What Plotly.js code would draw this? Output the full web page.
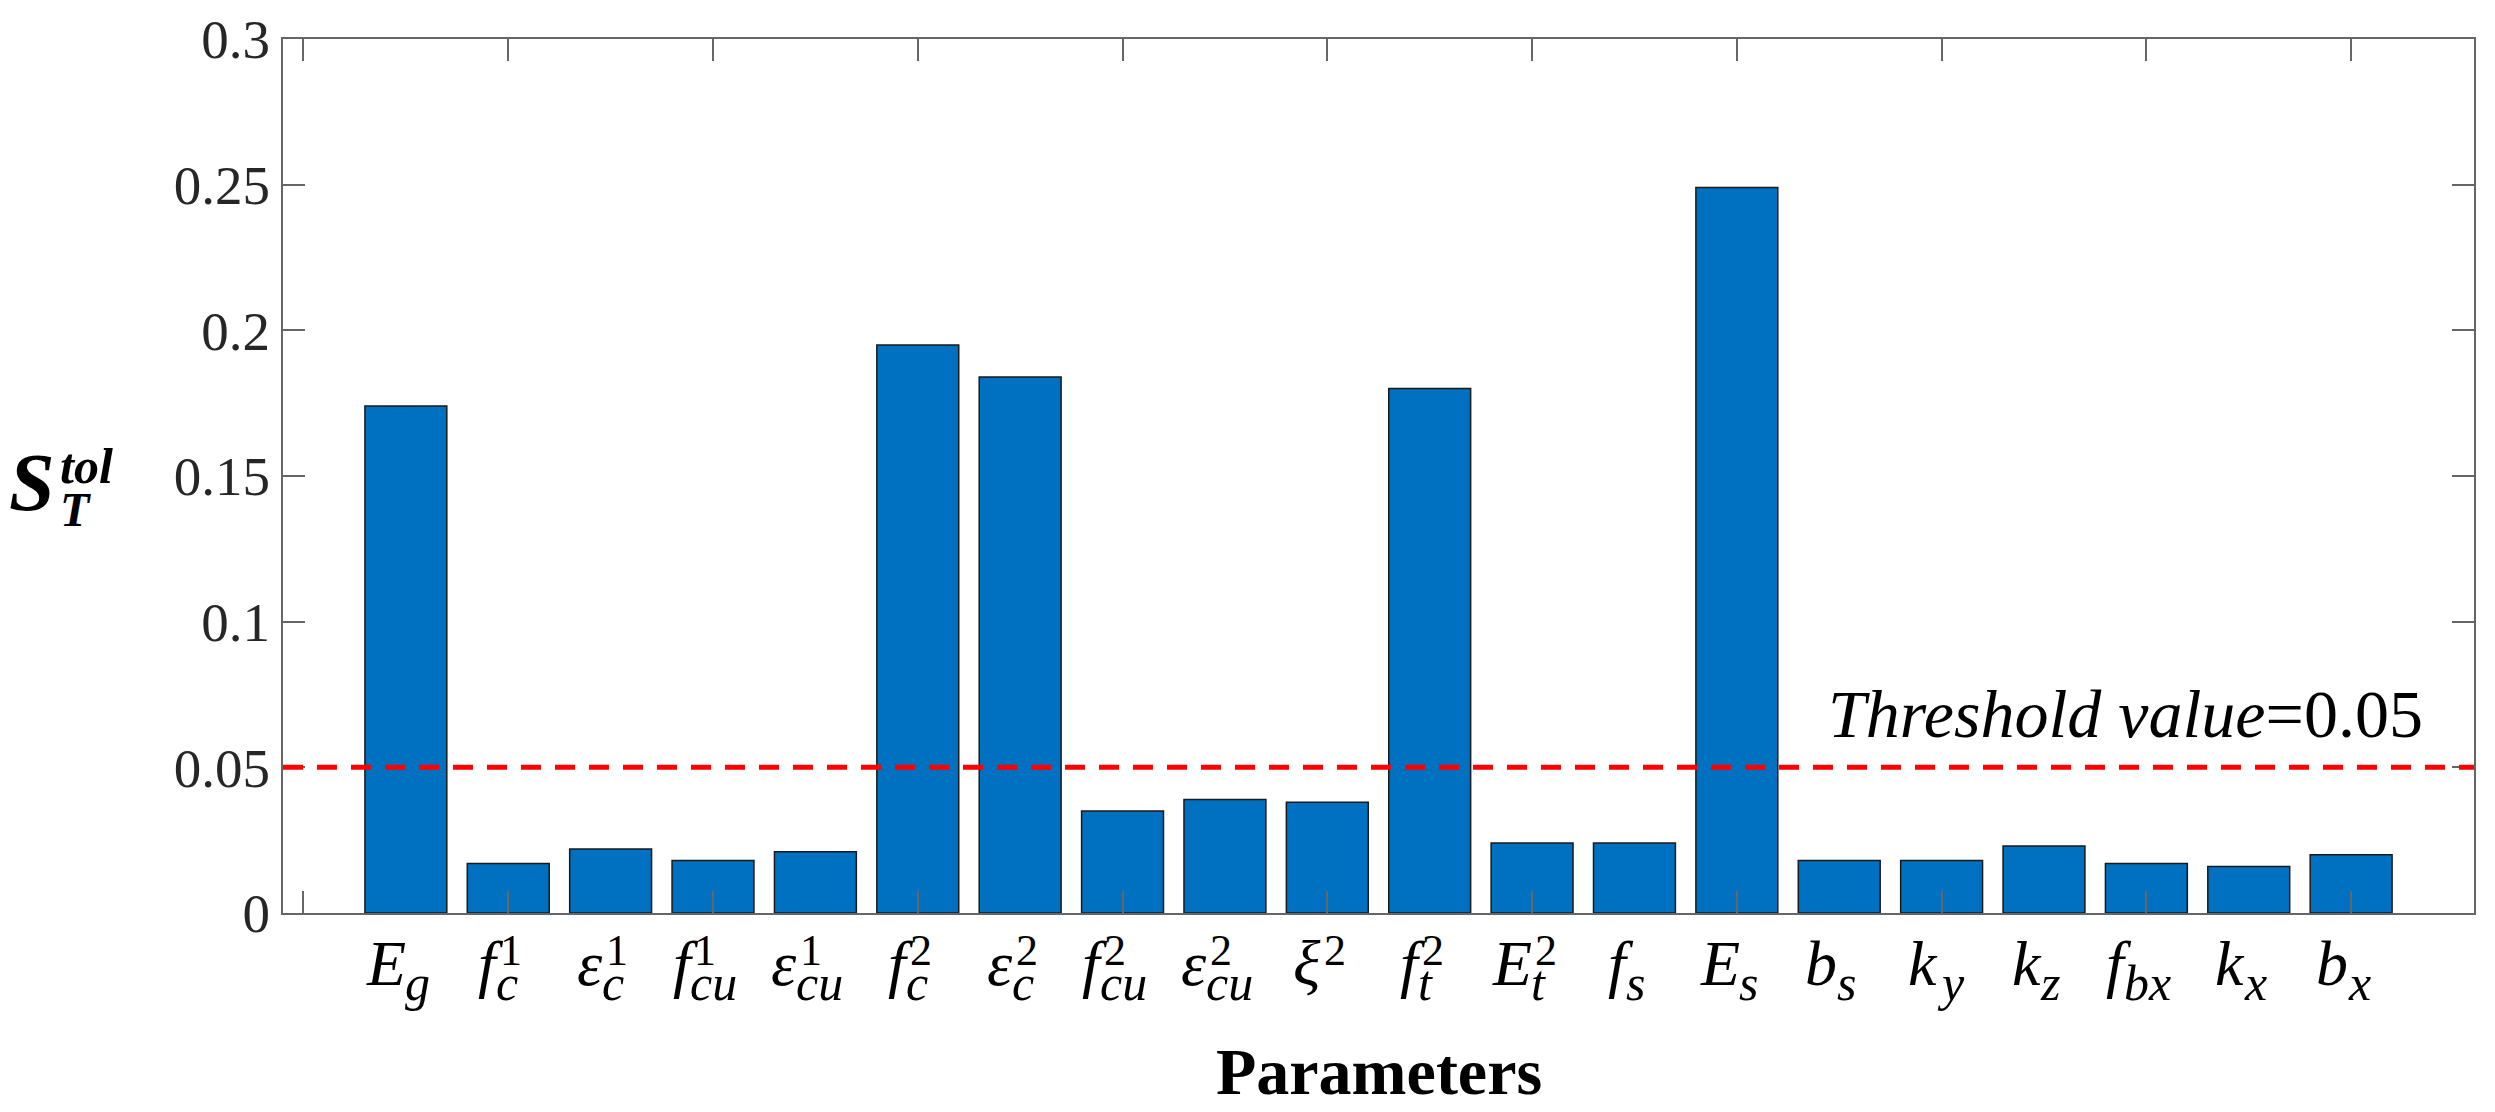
<!DOCTYPE html>
<html>
<head>
<meta charset="utf-8">
<script src="https://cdn.plot.ly/plotly-3.0.1.min.js"></script>
<style>
  html, body { margin: 0; padding: 0; background: #ffffff; }
  #chart { width: 2495px; height: 1112px; }
</style>
</head>
<body>
<div id="chart"></div>
<script>
// ------------------------------------------------------------------------------
// DATA

const param_base = ['E', 'f', 'ε', 'f', 'ε', 'f', 'ε', 'f', 'ε', 'ξ',
                    'f', 'E', 'f', 'E', 'b', 'k', 'k', 'f', 'k', 'b'];
const param_sub  = ['g', 'c', 'c', 'cu', 'cu', 'c', 'c', 'cu', 'cu', '',
                    't', 't', 's', 's', 's', 'y', 'z', 'bx', 'x', 'x'];
const param_sup  = ['', '1', '1', '1', '1', '2', '2', '2', '2', '2',
                    '2', '2', '', '', '', '', '', '', '', ''];

const st_values  = [0.174, 0.017, 0.022, 0.018, 0.021, 0.195, 0.184, 0.035, 0.039, 0.038,
                    0.180, 0.024, 0.024, 0.249, 0.018, 0.018, 0.023, 0.017, 0.016, 0.020];

const threshold  = 0.05;
const y_ticks    = [0, 0.05, 0.1, 0.15, 0.2, 0.25, 0.3];
const y_ticktext = ['0', '0.05', '0.1', '0.15', '0.2', '0.25', '0.3'];
const x_marks    = [0, 2, 4, 6, 8, 10, 12, 14, 16, 18, 20];

// ------------------------------------------------------------------------------
// PARAMETERS

const serif      = 'Liberation Serif, Times New Roman, serif';
const bar_color  = '#0070C0';
const axis_color = '#666666';
const plot_l = 283, plot_r = 2474, plot_t = 39, plot_b = 913;

const base_size = 64;
const sub_size  = 50;
const sup_size  = 44;
const ascent    = 0.891;   // Liberation Serif ascent, in em

function px2paperX(px) { return (px - plot_l) / (plot_r - plot_l); }
function px2paperY(py) { return (plot_b - py) / (plot_b - plot_t); }
// paper y of an annotation top edge so that its baseline sits at py
function baselineTop(py, size) { return px2paperY(py - ascent * size - 1); }

const canvas = document.createElement('canvas');
const ctx    = canvas.getContext('2d');
function textWidth(txt, size, italic) {
    ctx.font = (italic ? 'italic ' : '') + size + 'px "Liberation Serif"';
    return ctx.measureText(txt).width;
}

const positions = st_values.map((v, i) => i + 1);

// ------------------------------------------------------------------------------
// LABELS (base letter with stacked sub/superscript)

function textNote(text, x, xshift, ytop, size) {
    return {
        text: text,
        xref: 'x', yref: 'paper',
        x: x, xshift: xshift,
        y: ytop,
        xanchor: 'left', yanchor: 'top',
        showarrow: false,
        borderpad: 1,
        font: { family: serif, size: size, color: '#000000' }
    };
}

const label_notes = [];
for (let i = 0; i < positions.length; i++) {
    const wb = textWidth(param_base[i], base_size, true);
    const ws = param_sub[i] ? textWidth(param_sub[i], sub_size, true) : 0;
    const wp = param_sup[i] ? textWidth(param_sup[i], sup_size, false) + 4 : 0;
    const total = wb + Math.max(ws, wp);
    const x0 = -total / 2 - 10;

    label_notes.push(textNote('<i>' + param_base[i] + '</i>', positions[i], x0,
                              baselineTop(984, base_size), base_size));
    if (param_sub[i]) {
        label_notes.push(textNote('<i>' + param_sub[i] + '</i>', positions[i], x0 + wb,
                                  baselineTop(999, sub_size), sub_size));
    }
    if (param_sup[i]) {
        label_notes.push(textNote(param_sup[i], positions[i], x0 + wb + 4,
                                  baselineTop(964, sup_size), sup_size));
    }
}

// ------------------------------------------------------------------------------
// PLOT

const bar_trace = {
    type: 'bar',
    x: positions,
    y: st_values,
    width: 0.8,
    marker: {
        color: bar_color,
        line: { color: '#1a1a1a', width: 1.5 }
    },
    hoverinfo: 'none',
    showlegend: false
};

// invisible trace so the tick-mark axis gets drawn
const mark_trace = {
    type: 'scatter',
    x: [x_marks[0]],
    y: [0],
    xaxis: 'x2',
    mode: 'markers',
    marker: { opacity: 0 },
    hoverinfo: 'none',
    showlegend: false
};

const layout = {
    width: 2495,
    height: 1112,
    plot_bgcolor: '#ffffff',
    paper_bgcolor: '#ffffff',
    margin: { l: plot_l, r: 2495 - plot_r, t: plot_t, b: 1112 - plot_b },
    font: { family: serif, color: '#262626' },
    xaxis: {
        range: [-0.2, 21.2],
        tickvals: positions,
        showticklabels: false,
        ticks: '',
        showline: true,
        mirror: true,
        linecolor: axis_color,
        linewidth: 2,
        showgrid: false,
        zeroline: false,
        fixedrange: true
    },
    xaxis2: {
        range: [-0.2, 21.2],
        overlaying: 'x',
        anchor: 'y',
        side: 'bottom',
        tickvals: x_marks,
        showticklabels: false,
        ticks: 'inside',
        ticklen: 22,
        tickwidth: 2,
        tickcolor: axis_color,
        showline: true,
        mirror: 'ticks',
        linecolor: axis_color,
        linewidth: 2,
        showgrid: false,
        zeroline: false,
        fixedrange: true
    },
    yaxis: {
        range: [0, 0.3],
        tickvals: y_ticks,
        ticktext: y_ticktext,
        ticks: 'inside',
        ticklen: 22,
        tickwidth: 2,
        tickcolor: axis_color,
        tickfont: { family: serif, size: 55, color: '#262626' },
        showline: true,
        mirror: 'ticks',
        linecolor: axis_color,
        linewidth: 2,
        showgrid: false,
        zeroline: false,
        fixedrange: true
    },
    shapes: [
        {
            type: 'line',
            xref: 'paper', yref: 'y',
            x0: 0, x1: 1,
            y0: threshold, y1: threshold,
            line: { color: '#FF0000', width: 5, dash: '20px,14px' }
        }
    ],
    annotations: [
        {
            text: '<i>Threshold value</i>=' + threshold,
            xref: 'paper', yref: 'y',
            x: px2paperX(2425), y: 0.0546,
            xanchor: 'right', yanchor: 'bottom',
            showarrow: false,
            font: { family: serif, size: 68, color: '#000000' }
        },
        {
            text: '<b>Parameters</b>',
            xref: 'paper', yref: 'paper',
            x: 0.5, y: baselineTop(1093, 66),
            xanchor: 'center', yanchor: 'top',
            showarrow: false,
            borderpad: 1,
            font: { family: serif, size: 66, color: '#000000' }
        },
        // y-axis title S_T^tol, drawn horizontally
        {
            text: '<b><i>S</i></b>',
            xref: 'paper', yref: 'paper',
            x: px2paperX(57), y: baselineTop(509, 82),
            xanchor: 'right', yanchor: 'top',
            showarrow: false,
            borderpad: 1,
            font: { family: serif, size: 82, color: '#000000' }
        },
        {
            text: '<b><i>tol</i></b>',
            xref: 'paper', yref: 'paper',
            x: px2paperX(58), y: baselineTop(482, 50),
            xanchor: 'left', yanchor: 'top',
            showarrow: false,
            borderpad: 1,
            font: { family: serif, size: 50, color: '#000000' }
        },
        {
            text: '<b><i>T</i></b>',
            xref: 'paper', yref: 'paper',
            x: px2paperX(58), y: baselineTop(525, 48),
            xanchor: 'left', yanchor: 'top',
            showarrow: false,
            borderpad: 1,
            font: { family: serif, size: 48, color: '#000000' }
        }
    ].concat(label_notes)
};

Plotly.newPlot('chart', [bar_trace, mark_trace], layout, { displayModeBar: false, staticPlot: true });
</script>
</body>
</html>
